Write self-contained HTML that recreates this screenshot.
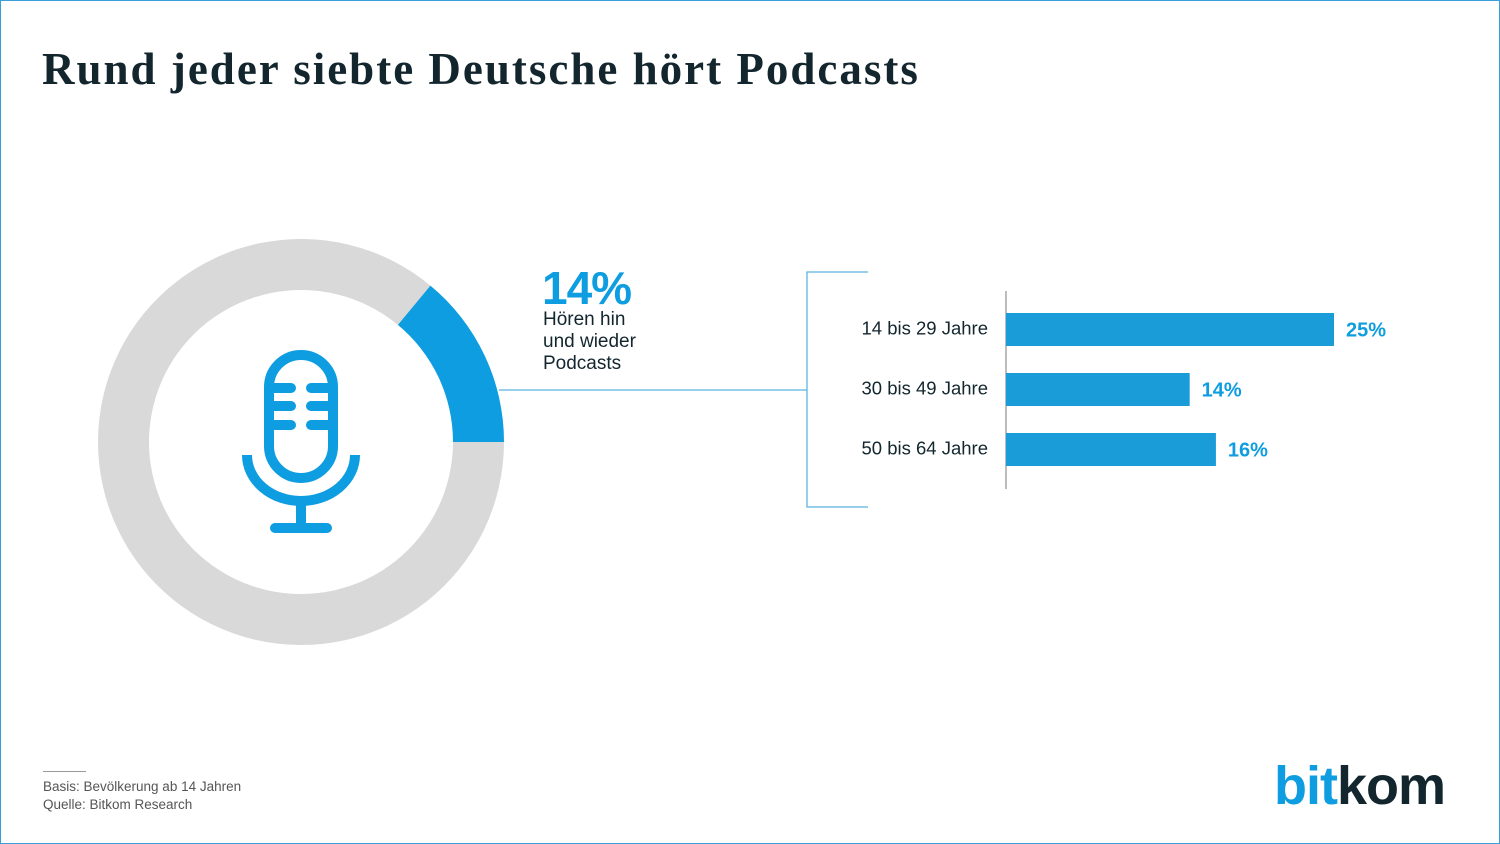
<!DOCTYPE html>
<html><head><meta charset="utf-8"><style>
body{margin:0;background:#fff}
#w{position:relative;width:1498px;height:842px;border:1px solid #3a9fd8;overflow:hidden;font-family:"Liberation Sans",sans-serif}
.t{position:absolute;margin:0}
</style></head><body>
<div id="w">
<h1 class="t" style="left:41px;top:42px;font-family:'Liberation Serif',serif;font-weight:bold;font-size:45px;letter-spacing:2px;color:#13262e">Rund jeder siebte Deutsche hört Podcasts</h1>
<svg id="s" width="1498" height="842" style="position:absolute;left:0;top:0">
<g id="donut"></g>
<g fill="none" stroke="#0e9de0" stroke-width="10" stroke-linecap="round">
<rect x="268" y="354" width="64" height="123" rx="32"/>
<path d="M273 387H290M273 405H290M273 424H290M310 387H327M310 405H327M310 424H327"/>
<path d="M246 454A54 46 0 0 0 354 454" stroke-linecap="butt"/>
<path d="M300 500V525M274 527H326"/>
</g>
<g stroke="#5bb5e0" stroke-width="1.3" fill="none">
<path d="M498 389H806M867 271H806V506H867"/>
</g>
<line x1="1005" y1="290" x2="1005" y2="488" stroke="#999" stroke-width="1.3"/>
<g id="bars"></g>
</svg>
<div class="t" style="left:541px;top:260px;font-size:46px;font-weight:bold;color:#0e9de0;letter-spacing:-1px">14%</div>
<div class="t" style="left:542px;top:308px;font-size:19px;line-height:22px;color:#13262e">Hören hin<br>und wieder<br>Podcasts</div>
<div class="t" style="left:42px;top:770px;width:43px;border-top:1px solid #999"></div>
<div class="t" style="left:42px;top:777px;font-size:13.5px;line-height:18px;color:#555">Basis: Bevölkerung ab 14 Jahren<br>Quelle: Bitkom Research</div>
<div class="t" style="left:1273px;top:754px;font-size:54px;font-weight:bold;letter-spacing:-1px"><span style="color:#0e9de0">bit</span><span style="color:#13262e">kom</span></div>
</div>
<script>
const share=[14];
const categories=["14 bis 29 Jahre","30 bis 49 Jahre","50 bis 64 Jahre"];
const values=[25,14,16];
const labels=["25%","14%","16%"];
const NS="http://www.w3.org/2000/svg";
function mk(t,a,p){const e=document.createElementNS(NS,t);for(const k in a)e.setAttribute(k,a[k]);p.appendChild(e);return e;}
const cx=300,cy=441,ro=203,ri=152;
function pt(r,a){return [cx+r*Math.sin(a),cy-r*Math.cos(a)];}
function arc(a0,a1){const l=(a1-a0)>Math.PI?1:0;const p0=pt(ro,a0),p1=pt(ro,a1),q1=pt(ri,a1),q0=pt(ri,a0);
return `M${p0}A${ro} ${ro} 0 ${l} 1 ${p1}L${q1}A${ri} ${ri} 0 ${l} 0 ${q0}Z`;}
const d=document.getElementById('donut');
const end=Math.PI/2,start=end-share[0]/100*2*Math.PI;
let g=mk('path',{d:arc(end,start+2*Math.PI),fill:'#d9d9d9'},d);


let b=mk('path',{d:arc(start,end),fill:'#0e9de0'},d);


const bg=document.getElementById('bars');
const x0=1005,sc=13.12,y0=312,step=60,h=33;
values.forEach((v,i)=>{const y=y0+i*step;
const r=mk('rect',{x:x0,y:y,width:v*sc,height:h,fill:'#1a9cd8'},bg);


const c=mk('text',{x:987,y:y+h/2+5,'text-anchor':'end','font-size':18.5,fill:'#13262e'},bg);c.textContent=categories[i];


const l=mk('text',{x:x0+v*sc+12,y:y+h/2+7,'font-size':20,'font-weight':'bold',fill:'#0e9de0'},bg);l.textContent=labels[i];


});
</script>
</body></html>
